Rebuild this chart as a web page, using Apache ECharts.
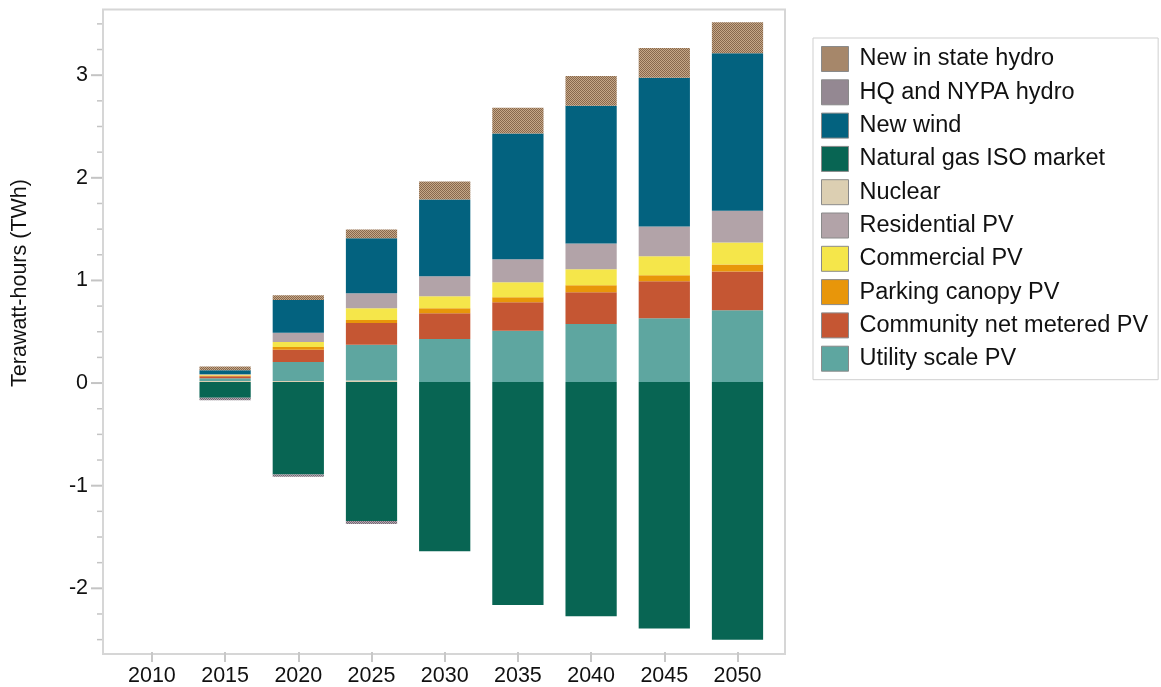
<!DOCTYPE html>
<html>
<head>
<meta charset="utf-8">
<script src="https://cdn.jsdelivr.net/npm/echarts@6/dist/echarts.min.js"></script>
<style>
  html, body { margin: 0; padding: 0; background: #fff; }
  #main { width: 1161px; height: 687px; }
</style>
</head>
<body>
<div id="main"></div>
<script>
// years on the x axis (2010 has no bar)
var years = ['2010', '2015', '2020', '2025', '2030', '2035', '2040', '2045', '2050'];

// TWh per resource ('-' = no bar)
var nuclear     = ['-', 0.01, 0.01, 0.013, 0, 0, 0, 0, 0];
var utilityPV   = ['-', 0.025, 0.185, 0.35, 0.42, 0.50, 0.565, 0.623, 0.70];
var communityPV = ['-', 0.02, 0.12, 0.212, 0.25, 0.279, 0.312, 0.361, 0.38];
var parkingPV   = ['-', 0.007, 0.026, 0.029, 0.05, 0.049, 0.068, 0.058, 0.068];
var commercialPV = ['-', 0.007, 0.049, 0.116, 0.117, 0.146, 0.155, 0.185, 0.215];
var residentialPV = ['-', 0.006, 0.09, 0.147, 0.195, 0.224, 0.254, 0.292, 0.311];
var naturalGas  = ['-', -0.155, -0.906, -1.36, -1.656, -2.18, -2.29, -2.41, -2.52];
var newWind     = ['-', 0.04, 0.32, 0.536, 0.75, 1.23, 1.346, 1.455, 1.539];
var hqHydro     = ['-', -0.025, -0.02, -0.03, 0, 0, 0, 0, 0];
var stateHydro  = ['-', 0.035, 0.048, 0.087, 0.176, 0.251, 0.29, 0.289, 0.302];

// y axis tick labels
var yTickLabels = [-2, -1, 0, 1, 2, 3];
var yMin = -2.64, yMax = 3.64;

var legendOrder = ['New in state hydro', 'HQ and NYPA hydro', 'New wind', 'Natural gas ISO market',
    'Nuclear', 'Residential PV', 'Commercial PV', 'Parking canopy PV', 'Community net metered PV', 'Utility scale PV'];

var FONT = '"Liberation Sans", Arial, Helvetica, sans-serif';

// small hatch pattern for the hydro bars
function hatch(light, dark) {
    var c = document.createElement('canvas');
    c.width = 4; c.height = 4;
    var ctx = c.getContext('2d');
    ctx.fillStyle = light;
    ctx.fillRect(0, 0, 4, 4);
    ctx.fillStyle = dark;
    for (var i = 0; i < 4; i++) {
        ctx.fillRect(i, i, 1, 1);
        ctx.fillRect((i + 2) % 4, i, 1, 1);
    }
    return { image: c, repeat: 'repeat' };
}

var tickData = [];
yTickLabels.forEach(function (v) { tickData.push([0, v, 1]); });
for (var t = -2.5; t <= 3.5 + 1e-9; t += 0.25) {
    if (Math.abs(t - Math.round(t)) > 1e-6) tickData.push([0, t, 0]);
}

function barSeries(name, data, color) {
    return {
        name: name,
        type: 'bar',
        stack: 'total',
        xAxisIndex: 1,
        yAxisIndex: 1,
        barCategoryGap: '30%',
        data: data,
        itemStyle: { color: color },
        emphasis: { disabled: true }
    };
}

var myChart = echarts.init(document.getElementById('main'));
var option = {
    animation: false,
    backgroundColor: '#fff',
    grid: [
        { left: 103, right: 376, top: 9.5, bottom: 33, show: true, borderColor: '#d6d6d6', borderWidth: 2, backgroundColor: 'transparent' },
        { left: 115.3, right: 386.9, top: 9.5, bottom: 33 }
    ],
    xAxis: [
        { gridIndex: 0, type: 'value', min: 0, max: 1, show: false },
        {
            gridIndex: 1, type: 'category', data: years,
            axisLine: { show: false, onZero: false },
            axisTick: { show: true, alignWithLabel: true, length: 10, lineStyle: { color: '#c8c8c8', width: 2 } },
            axisLabel: { fontSize: 21.5, color: '#111', margin: 13, fontFamily: FONT },
            splitLine: { show: false }
        }
    ],
    yAxis: [
        { gridIndex: 0, type: 'value', min: yMin, max: yMax, axisLine: { show: false }, axisTick: { show: false }, axisLabel: { show: false }, splitLine: { show: false } },
        { gridIndex: 1, type: 'value', min: yMin, max: yMax, show: false }
    ],
    legend: {
        data: legendOrder,
        orient: 'vertical',
        left: 813,
        top: 38,
        padding: [8, 10, 8, 8],
        itemGap: 7.3,
        itemWidth: 27,
        itemHeight: 25,
        icon: 'rect',
        borderColor: '#cfcfcf',
        borderWidth: 1,
        itemStyle: { borderColor: '#8a8a8a', borderWidth: 1 },
        textStyle: { fontSize: 23.5, color: '#111', fontFamily: FONT, padding: [0, 0, 0, 6] }
    },
    graphic: [
        {
            type: 'text', x: 20, y: 283, rotation: Math.PI / 2,
            style: { text: 'Terawatt-hours (TWh)', fontSize: 21.5, fontFamily: FONT, fill: '#111', align: 'center', verticalAlign: 'middle' }
        }
    ],
    series: [
        barSeries('Nuclear', nuclear, '#dccfb2'),
        barSeries('Utility scale PV', utilityPV, '#5ea6a0'),
        barSeries('Community net metered PV', communityPV, '#c55633'),
        barSeries('Parking canopy PV', parkingPV, '#e8960a'),
        barSeries('Commercial PV', commercialPV, '#f5e64a'),
        barSeries('Residential PV', residentialPV, '#b2a3a8'),
        barSeries('Natural gas ISO market', naturalGas, '#086553'),
        barSeries('New wind', newWind, '#03627f'),
        barSeries('HQ and NYPA hydro', hqHydro, hatch('#b3a7b1', '#756a74')),
        barSeries('New in state hydro', stateHydro, hatch('#c6a787', '#87684d')),
        {
            // y axis ticks and labels, placed through the y scale
            type: 'custom',
            xAxisIndex: 0,
            yAxisIndex: 0,
            silent: true,
            clip: false,
            data: tickData,
            renderItem: function (params, api) {
                var p = api.coord([0, api.value(1)]);
                var major = api.value(2) === 1;
                var len = major ? 11 : 5;
                var children = [{
                    type: 'line',
                    shape: { x1: p[0] - len - 1, y1: p[1], x2: p[0] - 1, y2: p[1] },
                    style: { stroke: '#c4c4c4', lineWidth: major ? 2 : 1.5 }
                }];
                if (major) {
                    children.push({
                        type: 'text',
                        style: {
                            text: String(api.value(1)), x: p[0] - 15, y: p[1],
                            align: 'right', verticalAlign: 'middle',
                            textAlign: 'right', textVerticalAlign: 'middle',
                            fontSize: 21.5, fontFamily: FONT, fill: '#111'
                        }
                    });
                }
                return { type: 'group', children: children };
            }
        }
    ]
};
myChart.setOption(option);
</script>
</body>
</html>
